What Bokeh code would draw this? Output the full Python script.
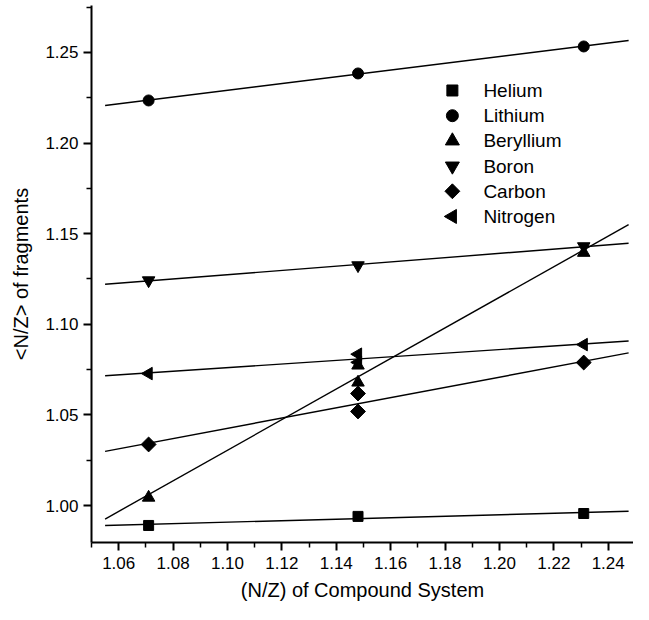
import numpy as np
from bokeh.plotting import figure
from bokeh.models import FixedTicker, PrintfTickFormatter, Range1d
from bokeh.core.properties import value
from bokeh.embed import file_html
from bokeh.resources import INLINE

# ---- data ----
names = ["Helium", "Lithium", "Beryllium", "Boron", "Carbon", "Nitrogen"]

helium_x = [1.071, 1.148, 1.231]
helium_y = [0.9890, 0.9940, 0.9956]

lithium_x = [1.071, 1.148, 1.231]
lithium_y = [1.2235, 1.2384, 1.2533]

beryllium_x = [1.071, 1.148, 1.148, 1.231]
beryllium_y = [1.0044, 1.0773, 1.0679, 1.1395]

boron_x = [1.071, 1.148, 1.231]
boron_y = [1.1242, 1.1325, 1.1430]

carbon_x = [1.071, 1.148, 1.148, 1.231]
carbon_y = [1.0337, 1.0618, 1.0519, 1.0789]

nitrogen_x = [1.071, 1.148, 1.148, 1.231]
nitrogen_y = [1.0728, 1.0835, 1.0790, 1.0888]

fit_x = [1.055, 1.2475]

x_ticks = [1.06, 1.08, 1.10, 1.12, 1.14, 1.16, 1.18, 1.20, 1.22, 1.24]
x_minor = [1.05, 1.07, 1.09, 1.11, 1.13, 1.15, 1.17, 1.19, 1.21, 1.23, 1.25]
y_ticks = [1.00, 1.05, 1.10, 1.15, 1.20, 1.25]
y_minor = [0.975, 1.025, 1.075, 1.125, 1.175, 1.225, 1.275]

# marker style per series: (marker, size, angle)
styles = [
    ("square", 10, 0.0),
    ("circle", 11, 0.0),
    ("triangle", 12.5, 0.0),
    ("inverted_triangle", 12.5, 0.0),
    ("square", 10.5, np.pi / 4),
    ("triangle", 12.5, np.pi / 2),
]
legend_sizes = [11, 12, 14, 14, 10.5, 14]

# legend layout (data units)
legend_symbol_x = 1.1827
legend_text_x = 1.1941
legend_top_y = 1.2290
legend_step = 0.0139

FONT = "Liberation Sans"

p = figure(width=633, height=604,
           x_range=Range1d(1.05, 1.2493), y_range=Range1d(0.9796, 1.2759),
           output_backend="svg", toolbar_location=None,
           min_border_left=91, min_border_right=0,
           min_border_top=5, min_border_bottom=62)

p.outline_line_color = None
p.xgrid.grid_line_color = None
p.ygrid.grid_line_color = None

all_x = [helium_x, lithium_x, beryllium_x, boron_x, carbon_x, nitrogen_x]
all_y = [helium_y, lithium_y, beryllium_y, boron_y, carbon_y, nitrogen_y]

for i, (xs, ys, (marker, size, ang)) in enumerate(zip(all_x, all_y, styles)):
    coef = np.polyfit(xs, ys, 1)
    p.line(fit_x, list(np.polyval(coef, fit_x)), line_color="black", line_width=1.4)
    p.scatter(xs, ys, marker=marker, size=size, angle=ang,
              fill_color="black", line_color="black")
    ly = legend_top_y - i * legend_step
    p.scatter([legend_symbol_x], [ly], marker=marker, size=legend_sizes[i], angle=ang,
              fill_color="black", line_color="black")

p.text(x=[legend_text_x] * len(names),
       y=[legend_top_y - i * legend_step for i in range(len(names))],
       text=names, text_font=value(FONT), text_font_size="19px",
       text_baseline="middle", text_align="left", text_color="black")

for ax in (p.xaxis[0], p.yaxis[0]):
    ax.axis_line_width = 2
    ax.axis_line_color = "black"
    ax.major_tick_line_width = 2
    ax.minor_tick_line_width = 1.5
    ax.major_tick_in = 0
    ax.minor_tick_in = 0
    ax.major_tick_out = 8
    ax.minor_tick_out = 5
    ax.major_label_text_font = FONT
    ax.major_label_text_font_size = "17px"
    ax.major_label_text_color = "black"
    ax.axis_label_text_font = FONT
    ax.axis_label_text_font_size = "20px"
    ax.axis_label_text_font_style = "normal"
    ax.axis_label_text_color = "black"
    ax.formatter = PrintfTickFormatter(format="%.2f")

p.xaxis[0].ticker = FixedTicker(ticks=x_ticks, minor_ticks=x_minor)
p.yaxis[0].ticker = FixedTicker(ticks=y_ticks, minor_ticks=y_minor)
p.xaxis[0].axis_label = "(N/Z) of Compound System"
p.yaxis[0].axis_label = "<N/Z> of fragments"
p.xaxis[0].major_label_standoff = 6
p.yaxis[0].major_label_standoff = 5
p.xaxis[0].axis_label_standoff = 7
p.yaxis[0].axis_label_standoff = 10

open("out.html", "w").write(file_html(p, INLINE))
